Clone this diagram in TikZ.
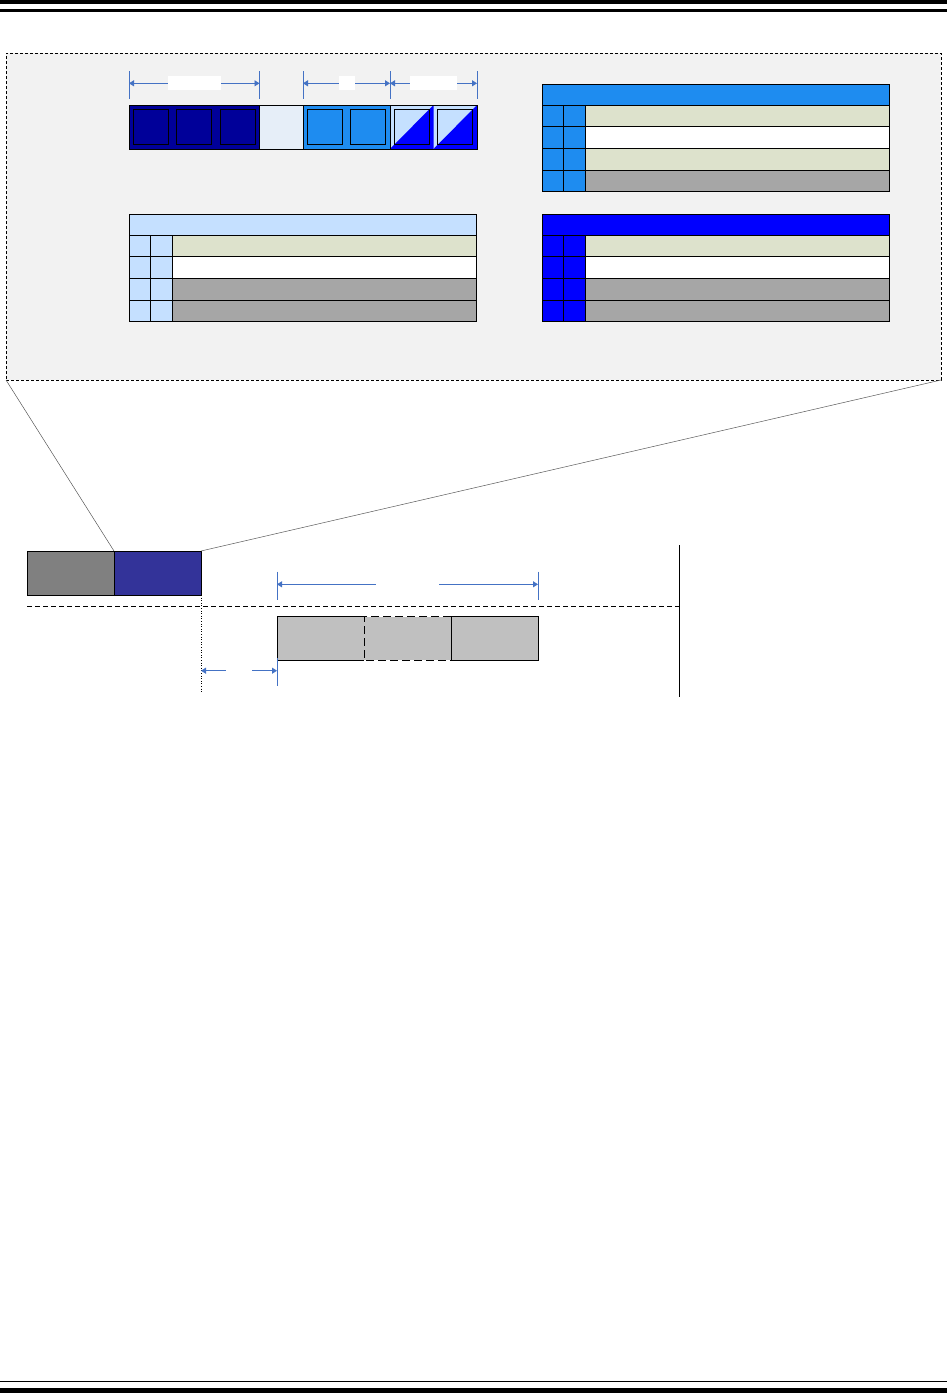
\documentclass[tikz,border=0pt]{standalone}
\usetikzlibrary{arrows.meta}
\definecolor{navy}{HTML}{000099}
\definecolor{mist}{HTML}{E6EEF8}
\definecolor{midblue}{HTML}{1E8CF0}
\definecolor{paleblue}{HTML}{C5E0FF}
\definecolor{pureblue}{HTML}{0000FF}
\definecolor{sage}{HTML}{DDE2CC}
\definecolor{rowgray}{HTML}{A6A6A6}
\definecolor{slotgray}{HTML}{808080}
\definecolor{indigo}{HTML}{333399}
\definecolor{bargray}{HTML}{C0C0C0}
\definecolor{panel}{HTML}{F2F2F2}
\definecolor{dimblue}{HTML}{4472C4}
\begin{document}
\begin{tikzpicture}[
    x=1pt, y=-1pt,
    cell/.style={draw, line width=0.8pt, inner sep=0pt, outer sep=0pt, anchor=north west},
    bare/.style={inner sep=0pt, outer sep=0pt, anchor=north west},
    dim/.style={{Triangle[width=6pt,length=5pt]}-{Triangle[width=6pt,length=5pt]}, draw=dimblue, line width=0.9pt},
    tick/.style={draw=dimblue, line width=0.9pt},
    gap/.style={fill=white, inner sep=0pt, minimum height=14pt},
    zoomline/.style={draw=black!65, line width=0.5pt}
]
\useasboundingbox (0,0) rectangle (947,1393);

% page rules
\fill (0,0) rectangle (947,4.3);
\fill (0,9.3) rectangle (947,11.7);
\fill (0,1380.7) rectangle (947,1382.3);
\fill (0,1387.7) rectangle (947,1393);

% zoomed panel
\node[bare, draw, dashed, dash pattern=on 3pt off 2pt, line width=0.6pt, fill=panel,
      minimum width=935pt, minimum height=327pt] (zoombox) at (6,53) {};

% field bar
\foreach \k in {6,7} {
  \fill[paleblue] ({129+43.5*\k},105) rectangle +(43.5,44);
  \fill[pureblue] ({129+43.5*\k},149) -- +(43.5,0) -- +(43.5,-44) -- cycle;
}
\node[cell, fill=navy, minimum width=130.5pt, minimum height=44pt] (grpA) at (129,105) {};
\node[cell, fill=mist, minimum width=43.5pt, minimum height=44pt] (grpB) at (grpA.north east) {};
\node[cell, fill=midblue, minimum width=87pt, minimum height=44pt] (grpC) at (grpB.north east) {};
\node[cell, minimum width=87pt, minimum height=44pt] (grpD) at (grpC.north east) {};
\foreach \k/\c in {0/navy,1/navy,2/navy,4/midblue,5/midblue}
  \node[cell, fill=\c, minimum size=35pt] at ({133.3+43.5*\k},109.3) {};
\foreach \k in {6,7}
  \node[cell, minimum size=35pt] at ({133.3+43.5*\k},109.3) {};

% field widths
\foreach \x [count=\i] in {129,259.5,303,390,477} {
  \coordinate (bt\i) at (\x,83.3);
  \draw[tick] (\x,71) -- (\x,99);
}
\draw[dim] (bt1) -- node[gap, minimum width=53pt] {} (bt2);
\draw[dim] (bt3) -- node[gap, minimum width=16pt] {} (bt4);
\draw[dim] (bt4) -- node[gap, minimum width=47pt] {} (bt5);

% tables
\foreach \tx/\ty/\tc/\rows in {542/84/midblue/{sage,white,sage,rowgray},
                               129/214/paleblue/{sage,white,rowgray,rowgray},
                               542/214/pureblue/{sage,white,rowgray,rowgray}} {
  \node[cell, fill=\tc, minimum width=347pt, minimum height=21pt] at (\tx,\ty) {};
  \foreach \rc [count=\r] in \rows {
    \node[cell, fill=\tc, minimum width=21.5pt, minimum height=21.7pt] at (\tx,{\ty+21+21.7*(\r-1)}) {};
    \node[cell, fill=\tc, minimum width=21.5pt, minimum height=21.7pt] at ({\tx+21.5},{\ty+21+21.7*(\r-1)}) {};
    \node[cell, fill=\rc, minimum width=304pt, minimum height=21.7pt] at ({\tx+43},{\ty+21+21.7*(\r-1)}) {};
  }
}

% slots
\node[cell, fill=slotgray, minimum width=87pt, minimum height=44pt] (slotA) at (27,551) {};
\node[cell, fill=indigo, minimum width=87pt, minimum height=44pt] (slotB) at (slotA.north east) {};
\draw[zoomline] (slotA.north east) -- (zoombox.south west);
\draw[zoomline] (slotB.north east) -- (zoombox.south east);

\coordinate (divL) at (27,606.3);
\coordinate (divR) at (679,606.3);
\draw[dashed, dash pattern=on 5pt off 3pt, line width=0.8pt] (divL) -- (divR);
\coordinate (edgeT) at (679,545);
\coordinate (edgeB) at (679,697);
\draw[line width=0.8pt] (edgeT) -- (edgeB);
\coordinate (dotB) at (201,692.7);
\draw[dotted, line width=0.6pt] (slotB.south east) -- (dotB);

% burst
\node[bare, fill=bargray, minimum width=87.4pt, minimum height=43.6pt] (burstA) at (277,616.7) {};
\node[bare, fill=bargray, minimum width=86.6pt, minimum height=43.6pt] (burstB) at (burstA.north east) {};
\node[cell, fill=bargray, minimum width=87pt, minimum height=43.6pt] (burstC) at (burstB.north east) {};
\draw[line width=0.9pt] (burstB.north west) -- (burstA.north west) -- (burstA.south west) -- (burstB.south west);
\draw[line width=0.9pt, dashed, dash pattern=on 8pt off 4pt] (burstB.north east) -- (burstB.north west) -- (burstB.south west) -- (burstB.south east);

\coordinate (lenL) at (277,584.3);
\coordinate (lenR) at (538,584.3);
\draw[tick] (277,571.7) -- (277,600);
\draw[tick] (538,571.7) -- (538,600);
\draw[dim] (lenL) -- node[gap, minimum width=63pt] {} (lenR);

\coordinate (offL) at (201,670.7);
\coordinate (offR) at (277,670.7);
\draw[tick] (277,658) -- (277,686);
\draw[dim] (offL) -- node[gap, minimum width=26pt] {} (offR);
\end{tikzpicture}
\end{document}
